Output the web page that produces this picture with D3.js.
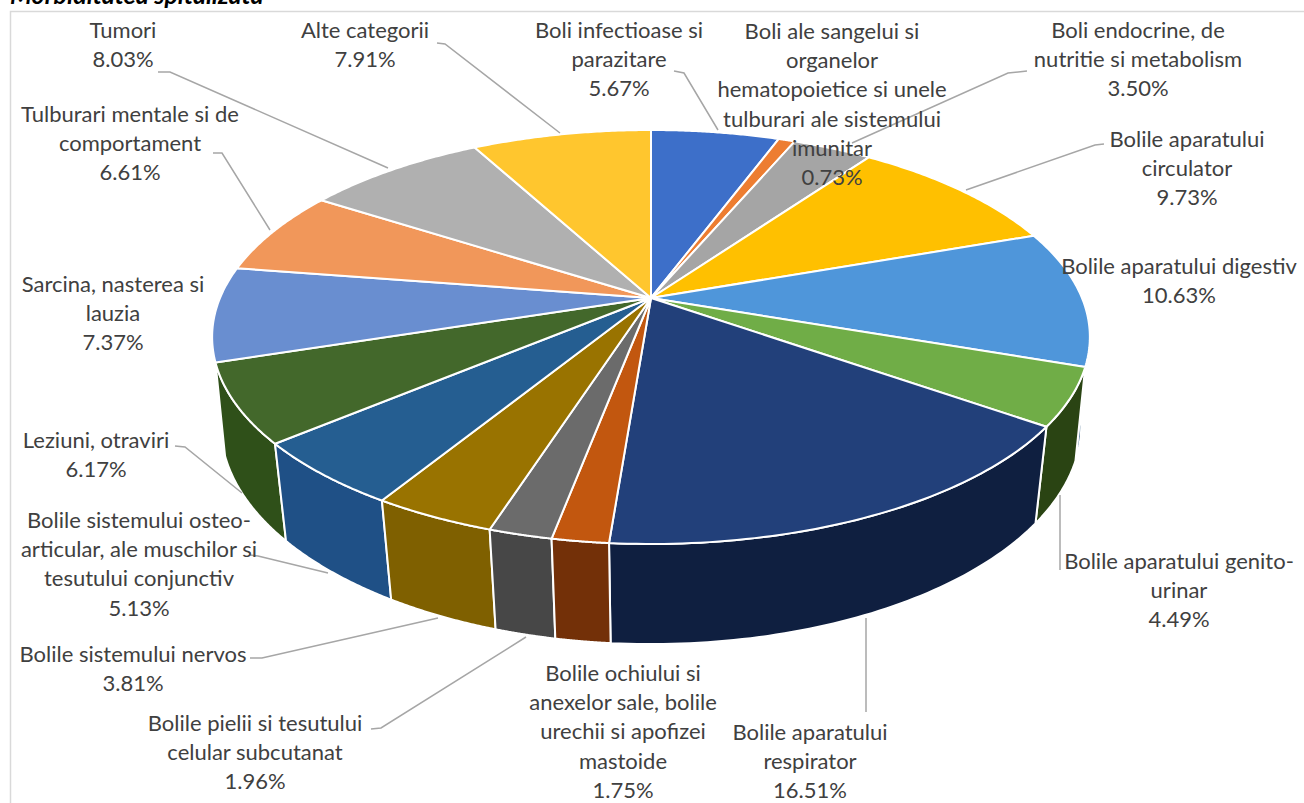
<!DOCTYPE html>
<html><head><meta charset="utf-8">
<script src="https://cdn.jsdelivr.net/npm/d3@7"></script>
<style>html,body{margin:0;padding:0;background:#fff;overflow:hidden}svg{display:block}</style>
</head><body><svg id="c" width="1304" height="803"></svg>
<script>
const title = "Morbiditatea spitalizata";
const categories = [
 ["Boli infectioase si","parazitare"],
 ["Boli ale sangelui si","organelor","hematopoietice si unele","tulburari ale sistemului","imunitar"],
 ["Boli endocrine, de","nutritie si metabolism"],
 ["Bolile aparatului","circulator"],
 ["Bolile aparatului digestiv"],
 ["Bolile aparatului genito-","urinar"],
 ["Bolile aparatului","respirator"],
 ["Bolile ochiului si","anexelor sale, bolile","urechii si apofizei","mastoide"],
 ["Bolile pielii si tesutului","celular subcutanat"],
 ["Bolile sistemului nervos"],
 ["Bolile sistemului osteo-","articular, ale muschilor si","tesutului conjunctiv"],
 ["Leziuni, otraviri"],
 ["Sarcina, nasterea si","lauzia"],
 ["Tulburari mentale si de","comportament"],
 ["Tumori"],
 ["Alte categorii"]
];
const values = [5.67,0.73,3.50,9.73,10.63,4.49,16.51,1.75,1.96,3.81,5.13,6.17,7.37,6.61,8.03,7.91];
const topColors = ["#3d6fc9","#ed7d31","#a5a5a5","#ffc000","#4f96da","#70ad47","#22407a","#c2570f","#6b6b6b","#997300","#255e91","#43682b","#698ed0","#f1975a","#b0b0b0","#ffc62e"];
const wallColors = ["#24437a","#8f4a1d","#636363","#997300","#2f5c85","#2a4413","#0f1f40","#733008","#474747","#7f6000","#1f5086","#2f5019","#3f5a8a","#91592f","#6e6e6e","#997a1c"];

// layout (separate from the data): label centre x, first-line centre y
const labelAnchors = [[619,30],[832,31],[1138,30],[1187,139],[1179,266],[1179,561],[810,732],[623,673],[255,723],[133,654],[139,520],[96,440],[113,284],[130,114],[123,30],[365,30]];
const leaders = [
 [[674,71],[684,73],[718,130]], null,
 [[1027,71],[1008,73],[852,143]],
 [[1104,144],[1095,145],[966,190]], null,
 [[1060,570],[1060,495]],
 [[866,712],[866,618]], null,
 [[371,729],[381,728],[526,637]],
 [[250,658],[262,658],[438,618]],
 [[250,555],[258,556],[328,573]],
 [[175,446],[185,447],[242,493]], null,
 [[213,153],[222,153],[270,230]],
 [[158,72],[170,72],[388,168]],
 [[437,43],[445,44],[560,133]]
];
const lineH = 29.3, fontSize = 22;

// perspective projection of the unit disc: plane {cx,k,a,b,c}
const topPlane = {cx:651, k:431, a:143.5, b:298, c:-0.1884};
const basePlane = {cx:651, k:424, a:146.8, b:387.8, c:-0.17};
const proj = (p, ang, r=1) => {
  const u = r*Math.sin(ang), v = -r*Math.cos(ang), d = 1 + p.c*v;
  return [p.cx + p.k*u/d, (p.a*v + p.b)/d];
};
const svg = d3.select("#c");
const arcs = d3.pie().sort(null).value(d=>d)(values);
const line = d3.line();
const samples = (a0,a1) => d3.range(0, 61).map(i => a0 + (a1-a0)*i/60);

// frame
svg.append("path").attr("d", "M10.5,803V11.5H1304").attr("fill","none").attr("stroke","#d9d9d9").attr("stroke-width",1.5);
svg.append("text").attr("x",10).attr("y",4).attr("font-family","Lato").attr("font-weight",700).attr("font-style","italic").attr("font-size",25).attr("fill","#000").text(title);

// outer walls (hidden back parts get covered by the top faces)
const wallOrder = arcs.map((d,i)=>i).sort((i,j)=>{
  const m = k => (arcs[k].startAngle+arcs[k].endAngle)/2;
  return -Math.cos(m(i)) - -Math.cos(m(j));
});
svg.append("g").selectAll("path").data(wallOrder).join("path")
  .attr("d", i => {
    const s = samples(arcs[i].startAngle, arcs[i].endAngle);
    return line([...s.map(a=>proj(topPlane,a)), ...s.slice().reverse().map(a=>proj(basePlane,a))]) + "Z";
  })
  .attr("fill", i => wallColors[i]).attr("stroke","#fff").attr("stroke-width",2).attr("stroke-linejoin","round");

// top faces
svg.append("g").selectAll("path").data(arcs).join("path")
  .attr("d", d => line([proj(topPlane,0,0), ...samples(d.startAngle,d.endAngle).map(a=>proj(topPlane,a))]) + "Z")
  .attr("fill", (d,i)=>topColors[i]).attr("stroke","#fff").attr("stroke-width",2).attr("stroke-linejoin","round");

// leaders
svg.append("g").selectAll("path").data(leaders.filter(Boolean)).join("path")
  .attr("d", d3.line().curve(d3.curveLinear)).attr("fill","none").attr("stroke","#a6a6a6").attr("stroke-width",1.5);

// labels
const g = svg.append("g").attr("font-family","Lato").attr("font-size",fontSize).attr("fill","#404040").attr("text-anchor","middle");
categories.forEach((lines,i)=>{
  const all = [...lines, d3.format(".2f")(values[i])+"%"];
  all.forEach((t,j)=>{
    g.append("text").attr("x",labelAnchors[i][0]).attr("y",labelAnchors[i][1]+j*lineH).attr("dy","0.35em").text(t);
  });
});
</script></body></html>
